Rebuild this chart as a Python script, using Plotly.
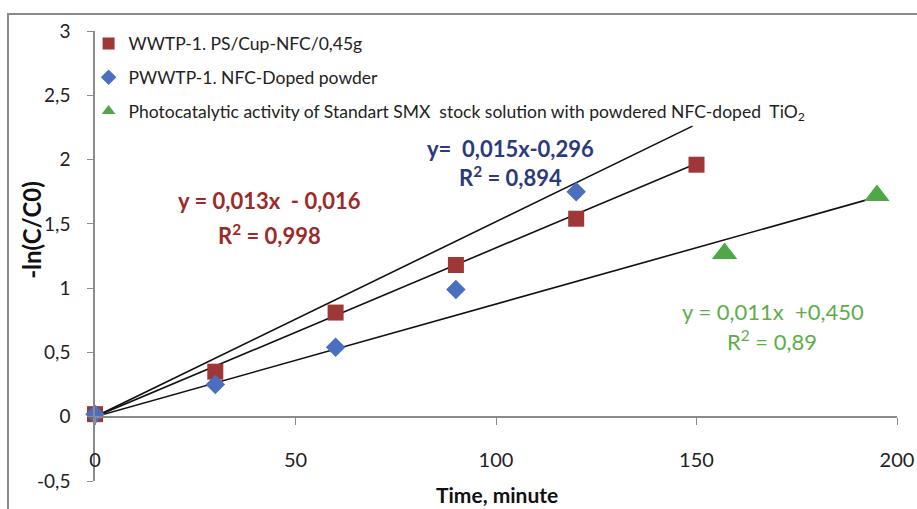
import plotly.graph_objects as go

# ---------------- data ----------------
time_red = [0, 30, 60, 90, 120, 150]
val_red = [0.02, 0.35, 0.81, 1.18, 1.54, 1.96]

time_blue = [0, 30, 60, 90, 120]
val_blue = [0.02, 0.25, 0.54, 0.99, 1.75]

time_green = [157, 195]
val_green = [1.27, 1.72]

# trend lines drawn on the chart
trend_a_x = [0, 149]
trend_a_y = [0, 2.26]
trend_b_x = [0, 150]
trend_b_y = [0, 1.97]
trend_c_x = [0, 194]
trend_c_y = [0, 1.70]

x_tickvals = [0, 50, 100, 150, 200]
x_ticktext = ["0", "50", "100", "150", "200"]
y_tickvals = [-0.5, 0, 0.5, 1, 1.5, 2, 2.5, 3]
y_ticktext = ["-0,5", "0", "0,5", "1", "1,5", "2", "2,5", "3"]

name_red = "WWTP-1. PS/Cup-NFC/0,45g"
name_blue = "PWWTP-1. NFC-Doped powder"
name_green = "Photocatalytic activity of Standart SMX  stock solution with powdered NFC-doped  TiO<sub>2</sub>"

FONT = "Lato"
RED = "#9e3735"
BLUE = "#4a6fbe"
GREEN = "#4ea846"

fig = go.Figure()

for tx, ty in [(trend_a_x, trend_a_y), (trend_b_x, trend_b_y), (trend_c_x, trend_c_y)]:
    fig.add_trace(go.Scatter(x=tx, y=ty, mode="lines", line=dict(color="#111111", width=1.6),
                             showlegend=False, hoverinfo="skip", cliponaxis=False))

fig.add_trace(go.Scatter(x=time_red, y=val_red, mode="markers", name=name_red, legendgroup="a",
                         marker=dict(symbol="square", size=16, color=RED), cliponaxis=False))
fig.add_trace(go.Scatter(x=time_blue, y=val_blue, mode="markers", name=name_blue, legendgroup="b",
                         marker=dict(symbol="diamond", size=15, color=BLUE), cliponaxis=False))
fig.add_trace(go.Scatter(x=time_green, y=val_green, mode="markers", name=name_green, legendgroup="c",
                         marker=dict(symbol="triangle-up", size=22, color=GREEN), cliponaxis=False))

ann = []
def add_ann(x, y, text, color, bold=True, size=22):
    ann.append(dict(x=x, y=y, xref="x", yref="y", text=("<b>%s</b>" % text) if bold else text,
                    showarrow=False, font=dict(family=FONT, size=size, color=color),
                    xanchor="center", yanchor="middle"))

add_ann(43.6, 1.68, "y = 0,013x  - 0,016", "#9c2a2b")
add_ann(43.6, 1.415, "R<sup>2</sup> = 0,998", "#9c2a2b")
add_ann(103.7, 2.09, "y=  0,015x-0,296", "#2b3a7c")
add_ann(103.5, 1.866, "R<sup>2</sup> = 0,894", "#2b3a7c")
add_ann(169, 0.816, "y = 0,011x  +0,450", "#5cae4a", bold=False)
add_ann(168.9, 0.591, "R<sup>2</sup> = 0,89", "#5cae4a", bold=False)

ann.append(dict(x=0.501, y=-0.031, xref="paper", yref="paper", text="<b>Time, minute</b>",
                showarrow=False, font=dict(family=FONT, size=21, color="#111111"),
                xanchor="center", yanchor="middle"))
ann.append(dict(x=-0.0786, y=0.558, xref="paper", yref="paper", text="<b>-ln(C/C0)</b>",
                showarrow=False, textangle=-90, font=dict(family=FONT, size=24, color="#111111"),
                xanchor="center", yanchor="middle"))

fig.update_layout(
    width=917, height=509,
    margin=dict(l=95, r=20, t=31, b=28, autoexpand=False),
    paper_bgcolor="white", plot_bgcolor="white",
    font=dict(family=FONT, size=17, color="#222222"),
    showlegend=True,
    legend=dict(x=-0.008, y=1.012, xanchor="left", yanchor="top", bgcolor="rgba(0,0,0,0)",
                font=dict(family=FONT, size=17.5, color="#222222"), tracegroupgap=8,
                itemsizing="constant"),
    annotations=ann,
    shapes=[dict(type="rect", xref="paper", yref="paper", x0=-0.1085, y0=-0.2, x1=1.2, y1=1.0378,
                 line=dict(color="#8a8a8a", width=2), fillcolor="rgba(0,0,0,0)", layer="below")],
    xaxis=dict(range=[0, 200], tickvals=x_tickvals, ticktext=x_ticktext, showgrid=False, zeroline=False,
               showline=True, linecolor="#8a8a8a", linewidth=1.5, ticks="outside", ticklen=7,
               tickcolor="#8a8a8a", anchor="free", position=0.1422, ticklabelstandoff=18,
               automargin=False, tickfont=dict(family=FONT, size=20, color="#222222")),
    yaxis=dict(range=[-0.5, 3], tickvals=y_tickvals, ticktext=y_ticktext, showgrid=False, zeroline=False,
               showline=True, linecolor="#8a8a8a", linewidth=1.5, ticks="outside", ticklen=6,
               tickcolor="#8a8a8a", ticklabelstandoff=13, automargin=False,
               tickfont=dict(family=FONT, size=19, color="#222222")),
)

fig.write_html("out.html")
